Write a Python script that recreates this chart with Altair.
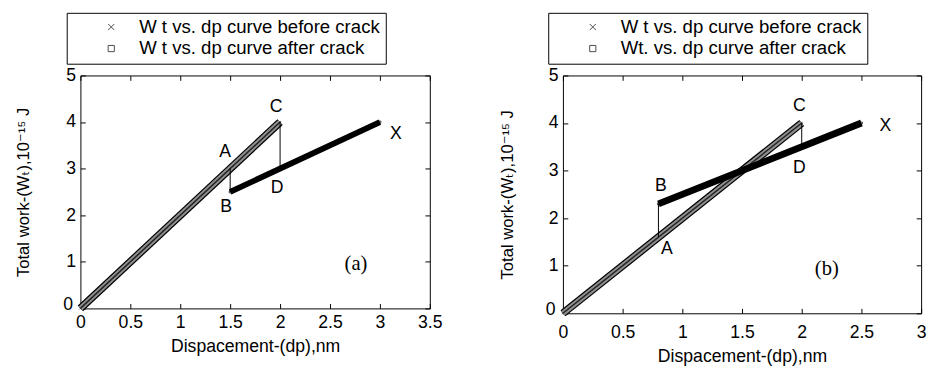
import altair as alt
import pandas as pd

FONT = "Liberation Sans, Arial, Helvetica, DejaVu Sans, sans-serif"
SERIF = "Liberation Serif, Times New Roman, serif"
XPATH = "M-1,-1L1,1M-1,1L1,-1"

# ---------------- Panel (a) ----------------
a_before_x = [0.0, 2.0]
a_before_y = [0.0, 4.0]
a_after_x = [1.5, 3.0]
a_after_y = [2.5, 4.0]
a_drop_x = [1.5, 2.0]
a_drop_top = [3.0, 4.0]
a_drop_bot = [2.5, 3.0]
a_lab_text = ["A", "B", "C", "D", "X"]
a_lab_x = [1.45, 1.46, 1.96, 1.97, 3.16]
a_lab_y = [3.35, 2.18, 4.33, 2.58, 3.74]
a_tag = ["(a)"]
a_tag_x = [2.76]
a_tag_y = [0.95]
a_xticks = [0, 0.5, 1, 1.5, 2, 2.5, 3, 3.5]
a_names = ["W t vs. dp curve before crack", "W t vs. dp curve after crack"]

# ---------------- Panel (b) ----------------
b_before_x = [0.0, 2.0]
b_before_y = [0.0, 4.0]
b_after_x = [0.8, 2.5]
b_after_y = [2.3, 4.0]
b_drop_x = [0.8, 2.0]
b_drop_top = [2.3, 4.0]
b_drop_bot = [1.6, 3.5]
b_lab_text = ["A", "B", "C", "D", "X"]
b_lab_x = [0.87, 0.82, 1.98, 1.98, 2.7]
b_lab_y = [1.34, 2.67, 4.35, 3.05, 3.93]
b_tag = ["(b)"]
b_tag_x = [2.21]
b_tag_y = [0.93]
b_xticks = [0, 0.5, 1, 1.5, 2, 2.5, 3]
b_names = ["W t vs. dp curve before crack", "Wt. vs. dp curve after crack"]

yticks = [0, 1, 2, 3, 4, 5]
x_title = "Dispacement-(dp),nm"
y_title = "Total work-(W\u209c),10\u207b\u00b9\u2075 J"


def panel(before_x, before_y, after_x, after_y, drop_x, drop_top, drop_bot,
          lab_text, lab_x, lab_y, tag, tag_x, tag_y, xticks, names,
          W, H, legend_x, x_label_pad, y_title_pad, after_w):
    xs = alt.Scale(domain=[0, xticks[-1]], nice=False, zero=False)
    ys = alt.Scale(domain=[0, 5], nice=False, zero=False)

    before = pd.DataFrame({"x": before_x, "y": before_y})
    after = pd.DataFrame({"x": after_x, "y": after_y})
    pts = pd.DataFrame({
        "x": before_x + after_x,
        "y": before_y + after_y,
        "s": [names[0]] * len(before_x) + [names[1]] * len(after_x),
    })
    drops = pd.DataFrame({"x": drop_x, "y1": drop_top, "y2": drop_bot})
    labs = pd.DataFrame({"x": lab_x, "y": lab_y, "t": lab_text})
    tags = pd.DataFrame({"x": tag_x, "y": tag_y, "t": tag})

    main_x = alt.Axis(orient="bottom", values=xticks, ticks=False, tickSize=0,
                      domain=False, grid=False, format="~g", labelFont=FONT,
                      labelFontSize=18, labelColor="black",
                      labelPadding=x_label_pad, labelFlush=False,
                      labelOverlap=False, title=x_title, titleFont=FONT,
                      titleFontSize=18, titleFontWeight="normal", titleColor="black",
                      titlePadding=6)
    main_y = alt.Axis(orient="left", values=yticks, ticks=False, tickSize=0,
                      domain=False, grid=False, format="~g", labelFont=FONT,
                      labelFontSize=18, labelColor="black",
                      labelPadding={"condition": {"test": "datum.value == 0", "value": 8},
                                    "value": 5},
                      labelOffset={"condition": {"test": "datum.value == 0", "value": -4},
                                   "value": 0},
                      labelFlush=False, labelOverlap=False, title=y_title,
                      titleFont=FONT, titleFontSize=17, titleFontWeight="normal",
                      titleColor="black", titlePadding=y_title_pad)

    def tick_axis(orient, values, off):
        return alt.Axis(orient=orient, values=values, offset=off, labels=False,
                        domain=False, grid=False, ticks=True, tickSize=5,
                        tickColor="black", tickWidth=1, title=None)

    base_pts = alt.Chart(pts).mark_point(size=4, strokeWidth=1, color="black",
                                         filled=False).encode(
        x=alt.X("x:Q", scale=xs, axis=None),
        y=alt.Y("y:Q", scale=ys, axis=None),
        shape=alt.Shape("s:N", scale=alt.Scale(domain=names, range=[XPATH, "square"]),
                        legend=alt.Legend(orient="none", legendX=legend_x, legendY=-64,
                                          title=None, labelFont=FONT, labelFontSize=19,
                                          labelColor="black", labelLimit=500,
                                          strokeColor="black", fillColor="white",
                                          padding=5, rowPadding=2, symbolOffset=31,
                                          labelOffset=19, symbolSize=40,
                                          symbolStrokeWidth=1,
                                          symbolStrokeColor="black",
                                          direction="vertical")),
    )

    l_before_outer = alt.Chart(before).mark_line(color="black", strokeWidth=8,
                                                  strokeCap="butt").encode(
        x=alt.X("x:Q", scale=xs, axis=main_x),
        y=alt.Y("y:Q", scale=ys, axis=main_y),
    )
    l_before_grey = alt.Chart(before).mark_line(color="#8f8f8f", strokeWidth=5.5,
                                                 strokeCap="butt").encode(
        x=alt.X("x:Q", scale=xs, axis=tick_axis("top", xticks, -H)),
        y=alt.Y("y:Q", scale=ys, axis=tick_axis("right", yticks, -W)),
    )
    l_before_core = alt.Chart(before).mark_line(color="#222222", strokeWidth=1.5,
                                                 strokeCap="butt").encode(
        x=alt.X("x:Q", scale=xs, axis=None),
        y=alt.Y("y:Q", scale=ys, axis=None),
    )
    l_after = alt.Chart(after).mark_line(color="black", strokeWidth=after_w,
                                          strokeCap="butt").encode(
        x=alt.X("x:Q", scale=xs, axis=tick_axis("bottom", xticks, -H)),
        y=alt.Y("y:Q", scale=ys, axis=tick_axis("left", yticks, -W)),
    )
    l_drops = alt.Chart(drops).mark_rule(color="black", strokeWidth=1).encode(
        x=alt.X("x:Q", scale=xs, axis=None),
        y=alt.Y("y1:Q", scale=ys, axis=None),
        y2="y2:Q",
    )
    l_labs = alt.Chart(labs).mark_text(font=FONT, fontSize=18, color="black").encode(
        x=alt.X("x:Q", scale=xs, axis=None),
        y=alt.Y("y:Q", scale=ys, axis=None),
        text="t:N",
    )
    l_tag = alt.Chart(tags).mark_text(font=SERIF, fontSize=21, color="black").encode(
        x=alt.X("x:Q", scale=xs, axis=None),
        y=alt.Y("y:Q", scale=ys, axis=None),
        text="t:N",
    )
    return alt.layer(base_pts, l_before_outer, l_before_grey, l_before_core,
                     l_after, l_drops, l_labs, l_tag).resolve_axis(
        x="independent", y="independent").properties(width=W, height=H)


pa = panel(a_before_x, a_before_y, a_after_x, a_after_y, a_drop_x, a_drop_top,
           a_drop_bot, a_lab_text, a_lab_x, a_lab_y, a_tag, a_tag_x, a_tag_y,
           a_xticks, a_names, 357, 238, -14, 6, 31, 6)
pb = panel(b_before_x, b_before_y, b_after_x, b_after_y, b_drop_x, b_drop_top,
           b_drop_bot, b_lab_text, b_lab_x, b_lab_y, b_tag, b_tag_x, b_tag_y,
           b_xticks, b_names, 366, 243, -15, 11, 30, 7)

chart = alt.hconcat(pa, pb, spacing=55).resolve_scale(
    shape="independent").resolve_legend(shape="independent").properties(
    padding={"left": 6, "top": 0, "right": 0, "bottom": 0},
    background="white",
).configure_view(stroke="black", strokeWidth=1)

chart.save("out.html", embed_options={"renderer": "svg", "actions": False})
